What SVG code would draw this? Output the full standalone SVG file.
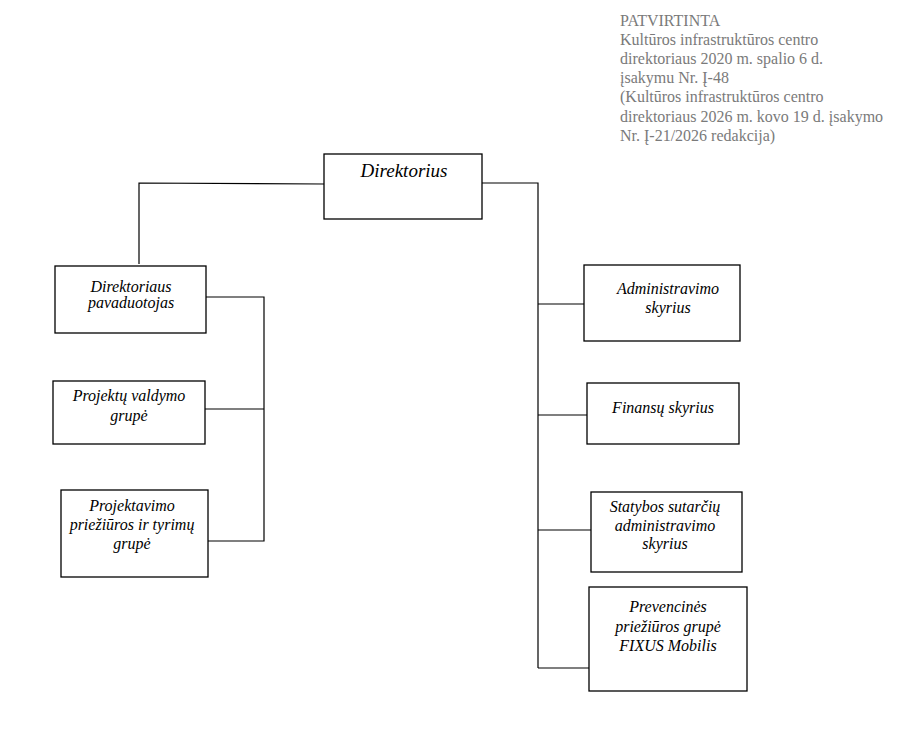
<svg xmlns="http://www.w3.org/2000/svg" width="904" height="729" viewBox="0 0 904 729">
<style>
.box{fill:#fff;stroke:#000;stroke-width:1.3}
.lbl{font-family:"Liberation Serif","Times New Roman",serif;font-style:italic;font-size:16px;fill:#000;text-anchor:middle}
.hdr{font-family:"Liberation Serif","Times New Roman",serif;font-size:16px;fill:#7a7a7a}
.con{fill:none;stroke:#000;stroke-width:1.2}
</style>
<rect width="904" height="729" fill="#fff"/>
<g id="header">
<text class="hdr" x="620" y="26">PATVIRTINTA</text>
<text class="hdr" x="620" y="45">Kultūros infrastruktūros centro</text>
<text class="hdr" x="620" y="64">direktoriaus 2020 m. spalio 6 d.</text>
<text class="hdr" x="620" y="83">įsakymu Nr. Į-48</text>
<text class="hdr" x="620" y="102">(Kultūros infrastruktūros centro</text>
<text class="hdr" x="620" y="122">direktoriaus 2026 m. kovo 19 d. įsakymo</text>
<text class="hdr" x="620" y="141">Nr. Į-21/2026  redakcija)</text>
</g>
<g id="connectors">
<polyline class="con" points="324,184 139,183 139,264"/>
<polyline class="con" points="482,183 538,183 538,668"/>
<line class="con" x1="538" y1="304" x2="584" y2="304"/>
<line class="con" x1="538" y1="415" x2="587" y2="415"/>
<line class="con" x1="538" y1="530" x2="591" y2="530"/>
<line class="con" x1="538" y1="668" x2="590" y2="668"/>
<polyline class="con" points="206,297 264,297 264,541 208,541"/>
<line class="con" x1="205" y1="409" x2="264" y2="409"/>
</g>
<g id="direktorius">
<rect class="box" x="324" y="154" width="158" height="65"/>
<text class="lbl" x="404" y="177" style="font-size:19px">Direktorius</text>
</g>
<g id="pavaduotojas">
<rect class="box" x="55" y="266" width="151" height="67"/>
<text class="lbl" x="131" y="292">Direktoriaus</text>
<text class="lbl" x="131" y="308">pavaduotojas</text>
</g>
<g id="projektu-valdymo">
<rect class="box" x="53" y="381" width="152" height="63"/>
<text class="lbl" x="129" y="401">Projektų valdymo</text>
<text class="lbl" x="129" y="421">grupė</text>
</g>
<g id="projektavimo">
<rect class="box" x="61" y="490" width="147" height="87"/>
<text class="lbl" x="132" y="511">Projektavimo</text>
<text class="lbl" x="132" y="530">priežiūros ir tyrimų</text>
<text class="lbl" x="132" y="549">grupė</text>
</g>
<g id="administravimo">
<rect class="box" x="584" y="265" width="156" height="76"/>
<text class="lbl" x="668" y="294">Administravimo</text>
<text class="lbl" x="668" y="313">skyrius</text>
</g>
<g id="finansu">
<rect class="box" x="587" y="383" width="152" height="61"/>
<text class="lbl" x="663" y="413">Finansų skyrius</text>
</g>
<g id="statybos">
<rect class="box" x="591" y="492" width="151" height="80"/>
<text class="lbl" x="665" y="512">Statybos sutarčių</text>
<text class="lbl" x="665" y="531">administravimo</text>
<text class="lbl" x="665" y="549">skyrius</text>
</g>
<g id="prevencines">
<rect class="box" x="589" y="587" width="158" height="104"/>
<text class="lbl" x="668" y="612">Prevencinės</text>
<text class="lbl" x="668" y="632">priežiūros grupė</text>
<text class="lbl" x="668" y="651">FIXUS Mobilis</text>
</g>
</svg>
